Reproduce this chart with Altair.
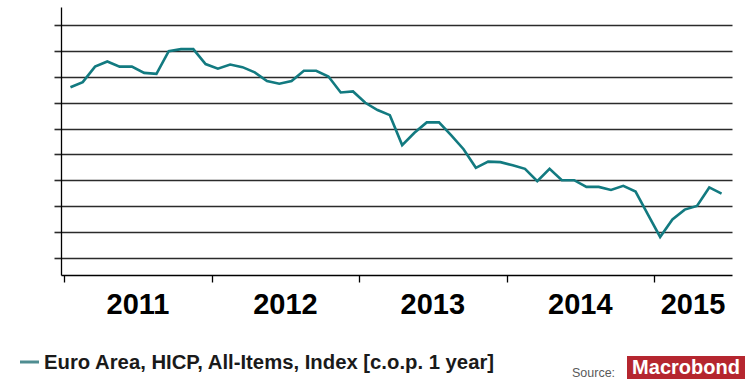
import altair as alt
import pandas as pd

# Euro Area HICP, y/y %, monthly Jan 2011 - Jun 2015
values = [2.3, 2.4, 2.7, 2.8, 2.7, 2.7, 2.58, 2.56, 3.0, 3.04, 3.04, 2.75,
          2.66, 2.74, 2.69, 2.59, 2.42, 2.37, 2.42, 2.62, 2.62, 2.51, 2.2, 2.22,
          2.0, 1.86, 1.76, 1.18, 1.42, 1.62, 1.62, 1.37, 1.1, 0.74, 0.86, 0.85,
          0.79, 0.72, 0.48, 0.72, 0.5, 0.5, 0.37, 0.37, 0.31, 0.39, 0.28, -0.16,
          -0.6, -0.26, -0.07, 0.0, 0.36, 0.24]
years = ["2011", "2012", "2013", "2014", "2015"]
legend_label = "Euro Area, HICP, All-Items, Index [c.o.p. 1 year]"
source_label = "Source:"
logo_label = "Macrobond"

X_MIN, X_MAX = -0.27, 54.35
Y_MIN, Y_MAX = -1.337, 3.856
LINE = "#127a80"

df = pd.DataFrame({"m": [i + 0.5 for i in range(len(values))], "v": values})
year_df = pd.DataFrame({
    "year": years,
    "pos": [(12 * i + min(12 * i + 12, X_MAX)) / 2 for i in range(len(years))],
})

xscale = alt.Scale(domain=[X_MIN, X_MAX], nice=False, zero=False)
yscale = alt.Scale(domain=[Y_MIN, Y_MAX], nice=False, zero=False)

line = alt.Chart(df).mark_line(color=LINE, strokeWidth=2.6).encode(
    x=alt.X("m:Q", scale=xscale,
            axis=alt.Axis(values=[0, 12, 24, 36, 48], labels=False, grid=False,
                          ticks=True, tickSize=7, tickColor="#000", tickWidth=1.3,
                          domainColor="#000", domainWidth=1.3, title=None)),
    y=alt.Y("v:Q", scale=yscale,
            axis=alt.Axis(values=[-1, -0.5, 0, 0.5, 1, 1.5, 2, 2.5, 3, 3.5],
                          labels=False, grid=True, gridColor="#2b2b2b", gridWidth=1.6,
                          gridOpacity=1, ticks=True, tickSize=7, tickColor="#2b2b2b",
                          tickWidth=1.6, domainColor="#000", domainWidth=1.3,
                          title=None)),
)

year_text = alt.Chart(year_df).mark_text(
    font="Liberation Sans", fontWeight="bold", fontSize=29, color="#000",
    align="center", baseline="alphabetic"
).encode(x=alt.X("pos:Q", scale=xscale), y=alt.value(307), text="year:N")

leg_df = pd.DataFrame({"t": [legend_label]})
leg_swatch = alt.Chart(leg_df).mark_rule(color="#4f8d91", strokeWidth=3).encode(
    x=alt.value(-41), x2=alt.value(-22), y=alt.value(355))
leg_text = alt.Chart(leg_df).mark_text(
    font="Liberation Sans", fontWeight="bold", fontSize=20.3, color="#1a1a1a",
    align="left", baseline="alphabetic"
).encode(x=alt.value(-17), y=alt.value(362), text="t:N")

src_df = pd.DataFrame({"s": [source_label], "l": [logo_label]})
src_text = alt.Chart(src_df).mark_text(
    font="Liberation Sans", fontSize=12.5, color="#5a5a5a", align="left",
    baseline="middle"
).encode(x=alt.value(511), y=alt.value(365.5), text="s:N")
logo_box = alt.Chart(src_df).mark_rect(color="#b5262f").encode(
    x=alt.value(566), x2=alt.value(684), y=alt.value(349), y2=alt.value(380))
logo_text = alt.Chart(src_df).mark_text(
    font="Liberation Sans", fontWeight="bold", fontSize=20, color="#fff",
    align="center", baseline="alphabetic"
).encode(x=alt.value(625), y=alt.value(367), text="l:N")

chart = alt.layer(line, year_text, leg_swatch, leg_text, src_text, logo_box,
                  logo_text).properties(
    width=671, height=268,
    autosize=alt.AutoSizeParams(type="none"),
    padding={"left": 61, "top": 7, "right": 15, "bottom": 104},
    background="#ffffff",
).configure_view(stroke=None)

chart.save("out.html", embed_options={"renderer": "svg", "actions": False})
